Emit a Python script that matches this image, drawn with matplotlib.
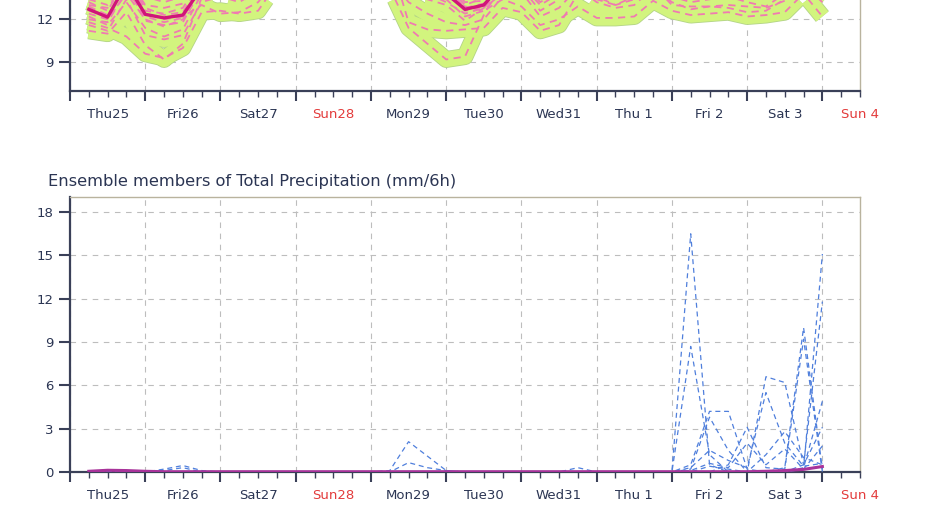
import matplotlib.pyplot as plt
from matplotlib.ticker import FixedLocator

# 6-hourly steps, step 0 = Thu25 00 UTC, step 40 = Sun 4 00 UTC
steps = list(range(1, 41))
day_labels = ['Thu25', 'Fri26', 'Sat27', 'Sun28', 'Mon29', 'Tue30',
              'Wed31', 'Thu 1', 'Fri 2', 'Sat 3', 'Sun 4']
sundays = ['Sun28', 'Sun 4']

# upper panel: ensemble members (only the lower part is in the picture)
temp_members = [
    [11.2, 11.0, 12.5, 10.2, 9.2, 10.3, 13.5, 14.0, 13.6, 14.5, 16.0, 16.8, 16.0, 17.5, 18.0, 16.5, 15.0, 14.2, 13.9, 13.4,
     12.2, 12.6, 14.0, 14.5, 13.2, 14.0, 15.0, 14.4, 14.0, 14.6, 15.4, 14.8, 14.5, 14.9, 15.2, 14.8, 14.6, 15.0, 15.5, 14.6],
    [11.8, 11.4, 10.8, 9.6, 9.3, 10.0, 12.5, 12.6, 12.4, 12.6, 14.5, 15.6, 14.9, 16.2, 16.7, 15.3, 14.0, 13.6, 13.4, 13.0,
     11.9, 12.8, 13.8, 14.2, 12.6, 13.4, 14.6, 14.0, 13.8, 14.4, 15.0, 14.6, 14.2, 14.6, 15.0, 14.5, 14.2, 14.8, 15.2, 14.3],
    [12.4, 12.0, 13.8, 12.0, 11.5, 12.0, 14.0, 14.6, 14.2, 15.0, 16.8, 17.4, 16.5, 17.8, 18.6, 17.0, 14.2, 11.4, 10.3, 9.2,
     9.4, 12.3, 14.6, 14.8, 13.6, 14.3, 15.3, 14.6, 14.2, 14.8, 15.6, 15.0, 14.6, 15.0, 15.4, 15.0, 14.7, 15.2, 15.8, 14.8],
    [13.2, 12.6, 14.8, 12.8, 12.3, 12.5, 14.6, 15.2, 14.8, 15.8, 17.2, 17.8, 17.0, 18.4, 19.0, 17.4, 16.2, 11.8, 11.3, 11.2,
     11.3, 11.4, 12.8, 12.5, 11.2, 11.6, 13.8, 13.4, 13.0, 13.6, 15.0, 14.6, 14.0, 14.4, 15.0, 14.5, 14.0, 14.8, 15.4, 14.4],
    [12.0, 11.8, 14.0, 12.4, 12.0, 12.2, 13.0, 12.4, 12.5, 13.2, 14.8, 15.5, 15.0, 16.0, 16.5, 15.5, 15.0, 14.4, 14.0, 13.6,
     12.9, 12.6, 13.4, 12.9, 11.6, 12.0, 12.9, 12.1, 12.1, 12.2, 13.3, 12.6, 12.3, 12.4, 12.5, 12.2, 12.3, 12.5, 13.8, 12.2],
    [12.9, 12.3, 14.2, 12.2, 11.8, 12.1, 14.4, 15.0, 14.7, 15.6, 17.0, 17.6, 16.8, 18.0, 18.8, 17.2, 16.0, 15.2, 14.6, 14.2,
     12.8, 13.1, 14.6, 15.0, 14.2, 14.8, 15.4, 15.0, 14.8, 15.2, 16.0, 15.4, 15.0, 15.3, 15.7, 15.2, 15.1, 15.6, 16.0, 15.2],
    [13.4, 13.0, 15.0, 13.0, 12.8, 13.1, 15.0, 15.8, 15.2, 16.4, 17.8, 18.4, 17.6, 18.8, 19.6, 18.0, 16.8, 15.8, 15.0, 14.6,
     13.2, 13.3, 15.0, 15.4, 14.6, 15.2, 15.8, 15.4, 15.2, 15.6, 16.4, 15.8, 15.4, 15.8, 16.2, 15.6, 15.4, 16.0, 16.4, 15.6],
    [12.2, 11.6, 13.2, 11.4, 10.8, 11.3, 13.8, 14.4, 14.0, 14.8, 16.4, 17.0, 16.2, 17.4, 18.0, 16.8, 15.6, 14.6, 13.8, 13.2,
     12.4, 12.8, 14.2, 14.4, 13.0, 13.8, 14.8, 13.6, 13.0, 13.4, 14.4, 13.0, 12.9, 12.9, 12.8, 12.5, 12.6, 13.4, 14.2, 13.4],
    [13.0, 12.8, 14.6, 12.6, 12.4, 12.8, 14.8, 15.4, 15.0, 16.0, 17.4, 18.0, 17.2, 18.6, 19.2, 17.6, 16.4, 15.4, 14.8, 14.4,
     13.0, 13.5, 15.2, 15.6, 14.8, 15.4, 16.0, 15.6, 15.4, 15.8, 16.6, 16.0, 15.6, 16.0, 16.4, 15.8, 15.6, 16.2, 16.6, 15.8],
    [12.6, 12.2, 14.4, 11.9, 11.6, 11.8, 14.2, 14.8, 14.4, 15.2, 16.6, 17.2, 16.4, 17.6, 18.4, 16.8, 15.6, 14.8, 14.4, 13.9,
     12.6, 12.9, 14.4, 14.6, 13.4, 14.2, 15.0, 14.2, 13.6, 14.0, 15.2, 13.6, 13.2, 13.4, 13.6, 13.2, 12.9, 13.8, 14.8, 13.8],
    [14.0, 13.6, 15.6, 13.6, 13.2, 13.6, 15.6, 16.2, 15.8, 16.8, 18.2, 18.8, 18.0, 19.2, 20.0, 18.4, 17.2, 16.2, 15.6, 15.2,
     14.0, 14.2, 15.6, 16.0, 15.2, 15.8, 16.4, 16.0, 15.8, 16.2, 17.0, 16.4, 16.0, 16.4, 16.8, 16.2, 16.0, 16.6, 17.0, 16.2],
    [11.6, 11.2, 13.4, 10.9, 10.6, 10.9, 13.2, 13.6, 13.2, 14.0, 15.6, 16.4, 15.6, 16.8, 17.4, 16.0, 14.8, 13.2, 12.4, 11.8,
     11.6, 12.0, 13.6, 13.9, 12.2, 12.8, 14.2, 13.2, 12.8, 13.0, 14.2, 13.2, 12.7, 12.9, 13.0, 12.9, 12.8, 13.3, 14.4, 13.2],
]
temp_main = [12.7, 12.15, 14.5, 12.35, 12.1, 12.3, 14.2, 15.0, 14.5, 15.5, 17.0, 17.5, 16.8, 18.0, 18.5, 17.2, 16.0, 15.0, 14.2, 13.8,
             12.7, 13.0, 14.5, 14.8, 14.0, 14.6, 15.2, 14.8, 14.5, 15.0, 15.8, 15.2, 14.8, 15.1, 15.5, 15.0, 14.9, 15.3, 15.8, 15.0]

# lower panel: total precipitation members (mm/6h)
precip_members = [
    [0, 0, 0, 0, 0.2, 0.45, 0.1, 0, 0, 0, 0, 0, 0, 0, 0, 0, 0, 0, 0, 0,
     0, 0, 0, 0, 0, 0, 0, 0, 0, 0, 0, 0, 16.5, 0.5, 0, 0, 0, 0, 0.2, 15.1],
    [0, 0, 0, 0, 0.1, 0.3, 0, 0, 0, 0, 0, 0, 0, 0, 0, 0, 0, 0, 0, 0,
     0, 0, 0, 0, 0, 0, 0, 0, 0, 0, 0, 0, 8.7, 1.2, 0, 0, 0, 0, 0.5, 11.8],
    [0, 0, 0, 0, 0, 0, 0, 0, 0, 0, 0, 0, 0, 0, 0, 0, 0.1, 2.1, 1.1, 0.1,
     0, 0, 0, 0, 0, 0, 0, 0, 0, 0, 0, 0, 0.5, 4.2, 4.2, 0.2, 0, 0.3, 10.0, 0.2],
    [0, 0, 0, 0, 0, 0, 0, 0, 0, 0, 0, 0, 0, 0, 0, 0, 0, 0.65, 0.3, 0.1,
     0, 0, 0, 0, 0, 0, 0, 0, 0, 0, 0, 0, 0.2, 3.8, 1.5, 0, 0, 0, 0.3, 4.9],
    [0, 0, 0, 0, 0, 0, 0, 0, 0, 0, 0, 0, 0, 0, 0, 0, 0, 0, 0, 0,
     0, 0, 0, 0, 0, 0, 0.3, 0, 0, 0, 0, 0, 0, 0, 0, 0, 6.6, 6.2, 0.5, 3.1],
    [0, 0, 0, 0, 0, 0, 0, 0, 0, 0, 0, 0, 0, 0, 0, 0, 0, 0, 0, 0,
     0, 0, 0, 0, 0, 0, 0, 0, 0, 0, 0, 0, 0, 0, 0.5, 3.1, 0.3, 0.2, 9.2, 0],
    [0, 0, 0, 0, 0, 0, 0, 0, 0, 0, 0, 0, 0, 0, 0, 0, 0, 0, 0, 0,
     0, 0, 0, 0, 0, 0, 0, 0, 0, 0, 0, 0, 0.3, 1.5, 0.8, 0.3, 5.5, 2.0, 0.4, 0.6],
    [0, 0, 0, 0, 0, 0, 0, 0, 0, 0, 0, 0, 0, 0, 0, 0, 0, 0, 0, 0,
     0, 0, 0, 0, 0, 0, 0, 0, 0, 0, 0, 0, 0, 0.4, 0.2, 0, 1.2, 2.8, 1.0, 0.5],
    [0, 0, 0, 0, 0, 0, 0, 0, 0, 0, 0, 0, 0, 0, 0, 0, 0, 0, 0, 0,
     0, 0, 0, 0, 0, 0, 0, 0, 0, 0, 0, 0, 0.1, 0.6, 0.3, 2.0, 0.5, 1.6, 0.2, 1.8],
]
precip_main = [0.05, 0.12, 0.1, 0.05, 0.02, 0.02, 0.02, 0.02, 0.02, 0.02, 0.02, 0.02, 0.02, 0.02, 0.02, 0.02, 0.02, 0.02, 0.02, 0.02,
               0.02, 0.02, 0.02, 0.02, 0.02, 0.02, 0.02, 0.02, 0.02, 0.02, 0.02, 0.02, 0.02, 0.02, 0.02, 0.02, 0.05, 0.1, 0.18, 0.38]

TEXT = '#2b3553'
RED = '#e33b3b'
DARK = '#3a4058'
LIGHT = '#b9b39e'
GRID = '#bdbdbd'


def style_axes(ax, ylim, yticks):
    ax.set_xlim(0, 42)
    ax.set_ylim(*ylim)
    ax.set_yticks(yticks)
    ax.xaxis.set_major_locator(FixedLocator(range(0, 41, 4)))
    ax.xaxis.set_minor_locator(FixedLocator(range(0, 43)))
    labels = [''] * 43
    for i, lab in enumerate(day_labels):
        labels[2 + 4 * i] = lab
    ax.set_xticklabels([''] * 11)
    ax.set_xticklabels(labels, minor=True)
    for lbl in ax.get_xticklabels(minor=True):
        lbl.set_color(RED if lbl.get_text() in sundays else TEXT)
    ax.tick_params(axis='x', which='major', length=7, width=1.5, color=DARK)
    ax.tick_params(axis='x', which='minor', length=4, width=1, color=DARK,
                   pad=8.5, labelsize=9.5)
    ax.tick_params(axis='y', length=8, width=1.5, color=DARK, pad=4,
                   labelsize=9.5, labelcolor=TEXT)
    ax.grid(True, which='major', linestyle=(0, (5, 5)), color=GRID, lw=0.8)
    ax.set_axisbelow(True)
    for side in ['left', 'bottom']:
        ax.spines[side].set_color(DARK)
        ax.spines[side].set_linewidth(1.6)
    for side in ['top', 'right']:
        ax.spines[side].set_color(LIGHT)
        ax.spines[side].set_linewidth(1.0)


fig = plt.figure(figsize=(9.3, 5.25), dpi=100)

# top panel, its upper part lies outside the picture
ax1 = fig.add_axes([70 / 930, 1 - 91 / 525, 790 / 930, 143.3 / 525])
for m in temp_members:
    ax1.plot(steps, m, color='#b3d487', lw=12.2, solid_capstyle='butt',
             solid_joinstyle='round', zorder=2)
for m in temp_members:
    ax1.plot(steps, m, color='#d2f47e', lw=11.0, solid_capstyle='butt',
             solid_joinstyle='round', zorder=3)
for m in temp_members:
    ax1.plot(steps, m, color='#f07ab2', lw=1.3, ls=(0, (4, 3)), zorder=4)
ax1.plot(steps, temp_main, color='#d0147a', lw=2.4, zorder=5)
style_axes(ax1, (7, 17), [9, 12])

# bottom panel
ax2 = fig.add_axes([70 / 930, 1 - 472 / 525, 790 / 930, 275 / 525])
for m in precip_members:
    ax2.plot(steps, m, color='#4f7fdc', lw=0.9, ls=(0, (4, 3)), zorder=3)
ax2.plot(steps, precip_main, color='#a8339a', lw=2.2, zorder=4)
style_axes(ax2, (0, 19.05), [0, 3, 6, 9, 12, 15, 18])
fig.text(48 / 930, 1 - 181 / 525, 'Ensemble members of Total Precipitation (mm/6h)',
         color=TEXT, fontsize=11.7, ha='left', va='center')

fig.savefig('out.png', dpi=100, facecolor='white')
